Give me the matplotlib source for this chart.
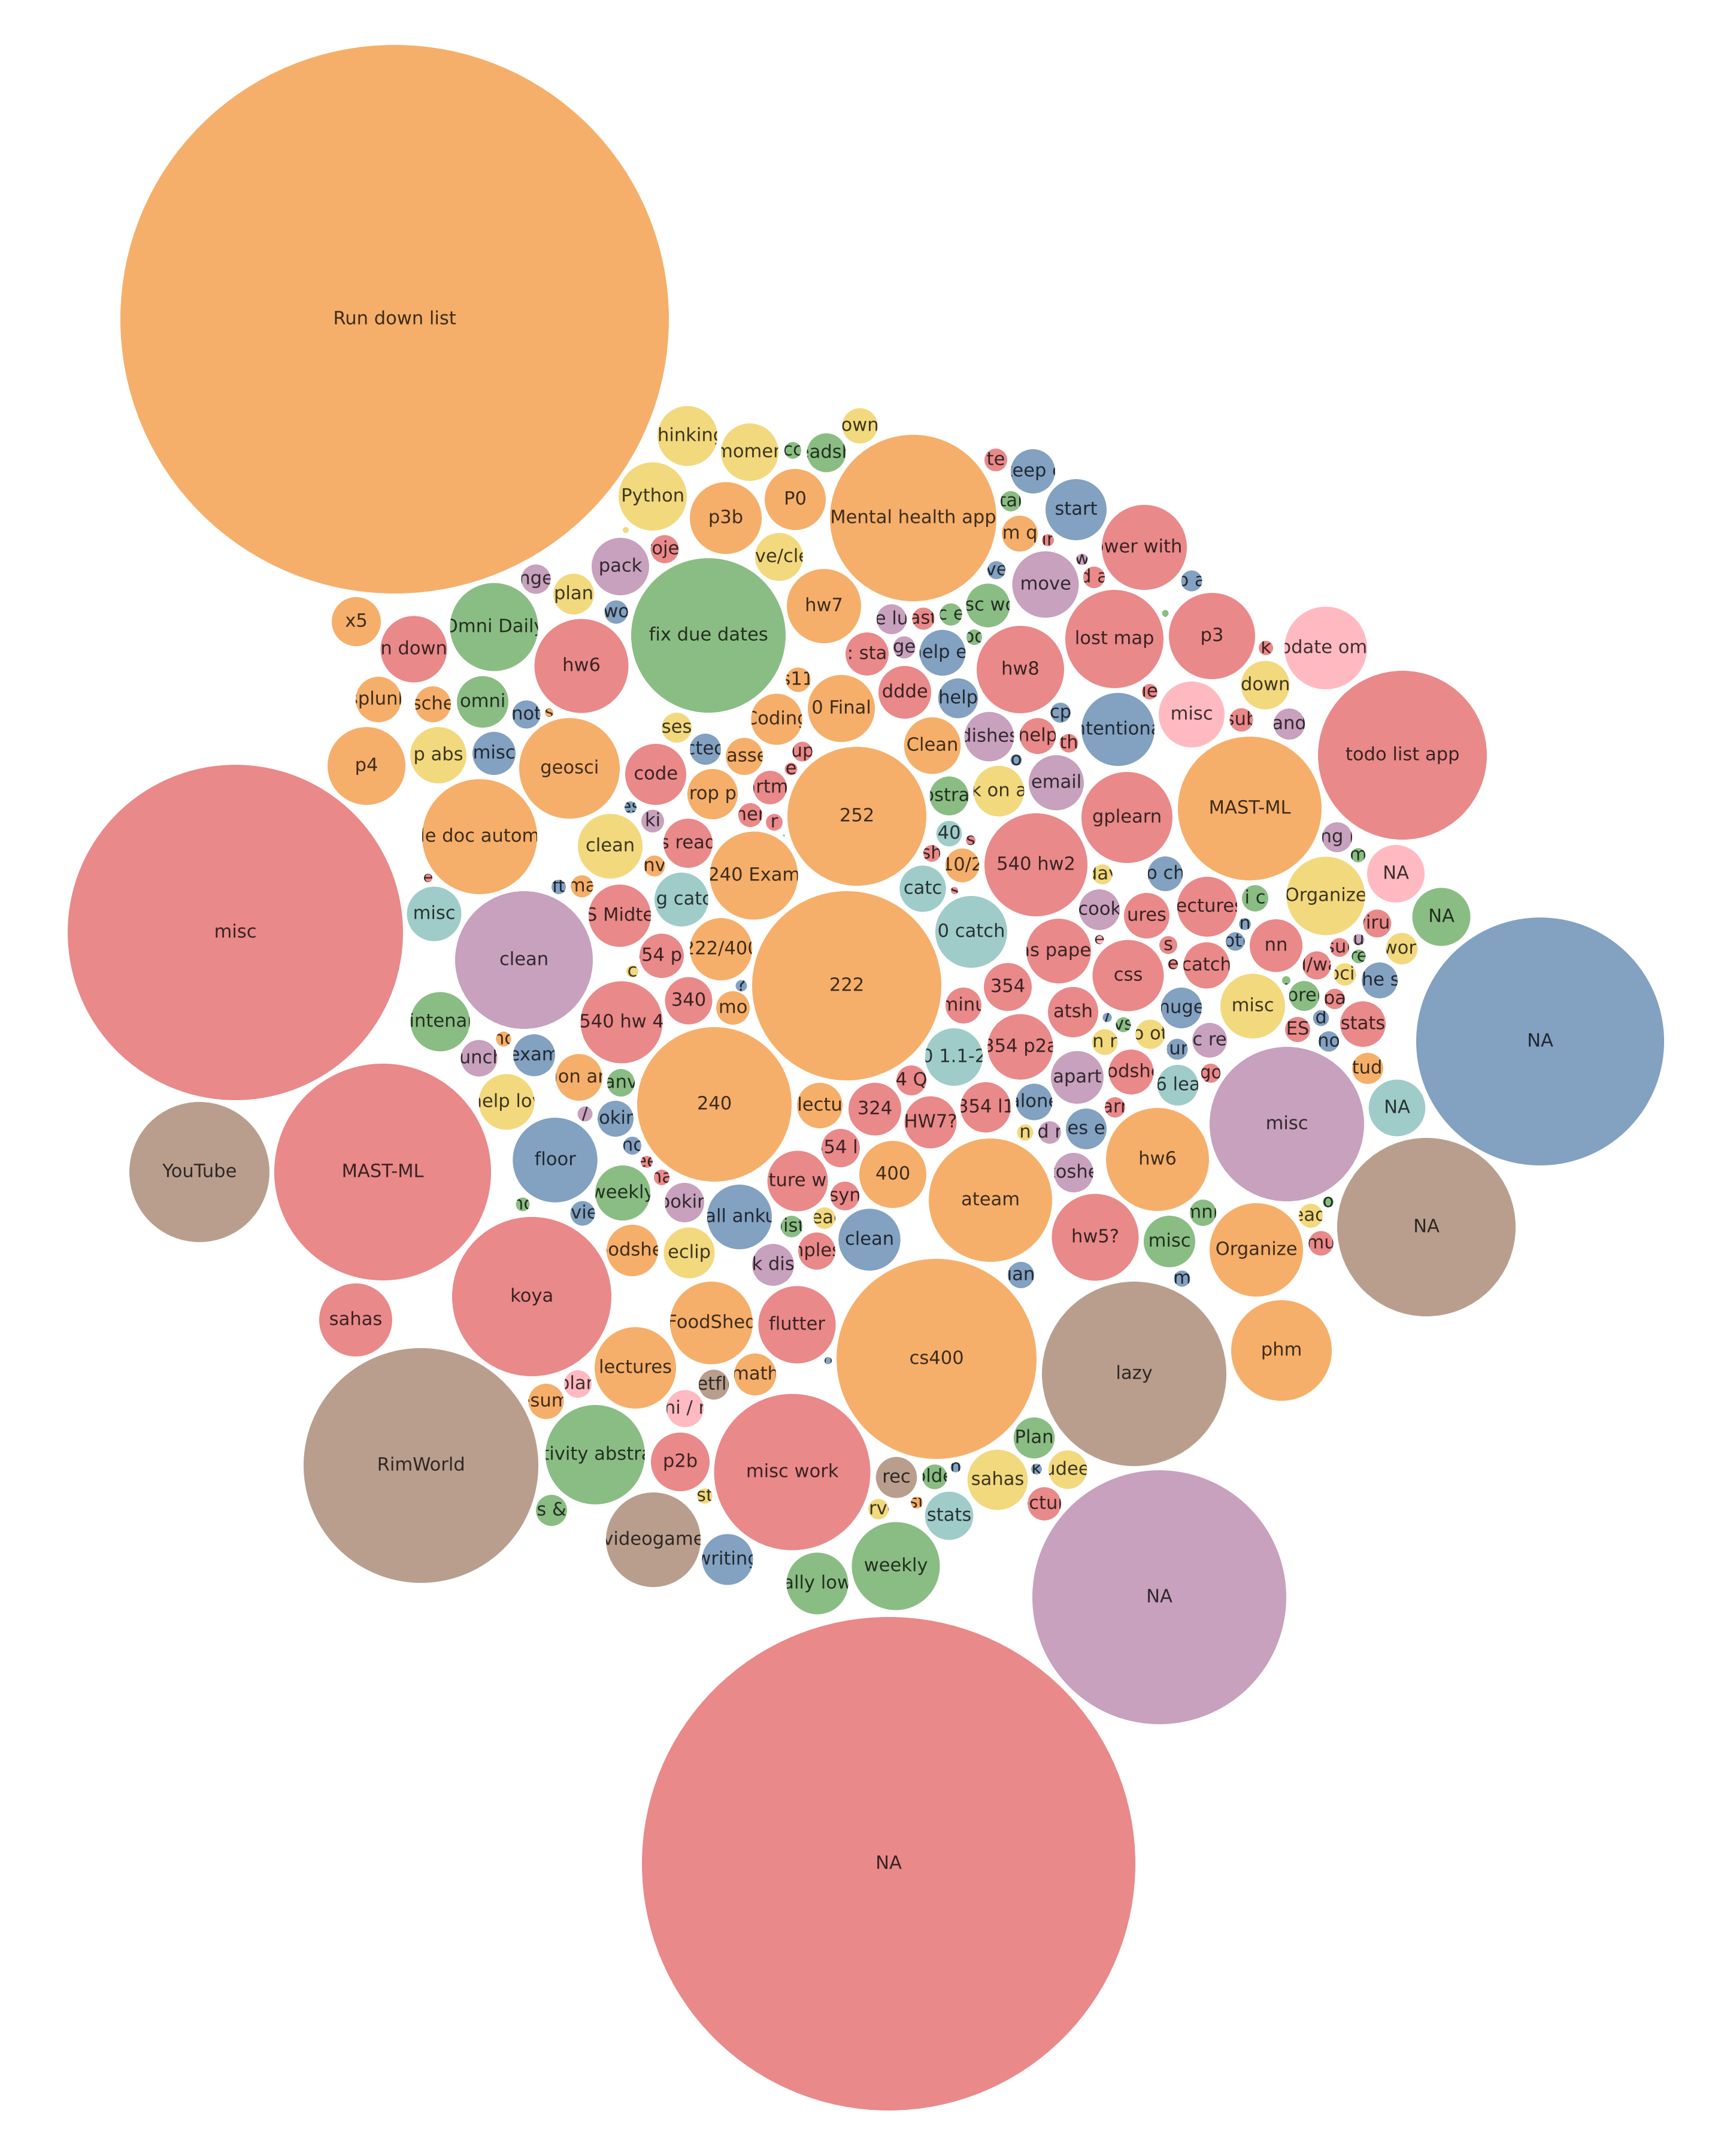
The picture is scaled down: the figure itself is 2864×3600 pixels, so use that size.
"""
Packed bubble chart of time spent per task, one colour per category.
Bubble centres and radii are in layout units (figure is 2864 x 3600 units).
"""

import matplotlib
matplotlib.use('Agg')
import matplotlib.pyplot as plt
import matplotlib.patheffects as pe
from matplotlib.patches import Circle

# ---- orange ----
orange_labels = ["Run down list", "222", "252", "240", "cs400", "Mental health app", "ateam",
                 "phm", "hw6", "Organize", "MAST-ML", "hw7", "P0", "p3b", "m q", "x5", "splunk",
                 "sche", "s", "p4", "geosci", "drop pa", "google doc automation", "nv",
                 "240 Exam", "ma", "222/400", "mo", "nc", "ion ar", "foodshed", "lectu", "400",
                 "cs112", "0 Final", "Coding", "Clean", "classes", "10/2", "study",
                 "lectures", "resume", "FoodShed", "math", "st"]
orange_x = [659, 1414, 1431, 1193, 1564, 1525, 1654, 2140, 1933, 2098, 2087, 1376, 1328, 1212,
            1703, 595, 632, 723, 917, 612, 951, 1190, 801, 1093, 1259, 972, 1204, 1224, 841,
            967, 1056, 1369, 1491, 1333, 1405, 1297, 1557, 1243, 1607, 2284, 1061, 912, 1188,
            1261, 1531]
orange_y = [533, 1646, 1363, 1844, 2269, 865, 2004, 2255, 1936, 2087, 1350, 1012, 834, 865,
            891, 1038, 1168, 1176, 1190, 1279, 1283, 1326, 1397, 1446, 1462, 1480, 1585, 1683,
            1735, 1799, 2088, 1846, 1961, 1135, 1183, 1201, 1245, 1263, 1445, 1784, 2284, 2340,
            2209, 2295, 2509]
orange_r = [458, 158, 116, 129, 167, 139, 103, 84, 86, 78, 120, 62, 51, 60, 30, 41, 38, 30, 7,
            65, 84, 42, 96, 17.5, 73.5, 18.5, 52, 28, 12.5, 39, 43, 38, 56, 20.5, 56, 42.7,
            47.3, 31, 28.3, 26, 68, 29.5, 69, 35, 9.8]

# ---- red ----
red_labels = ["misc", "NA", "MAST-ML", "koya", "sahas", "misc work", "todo list app", "p3",
              "power with cs", "lost map", "hw8", "te", "ir", "d a", "ast", "hw6", "n down",
              "project", "code", "s read", "e", "S Midte", "354 p1", "340", "540 hw 4",
              "ee", "na", "minu", "354", "atsh", "354 p2a", "foodshed", "4 Q", "324", "HW7?",
              "354 l1", "arr", "354 l1", "ture w", "syn", "hw5?", "nples", "mu", "stats",
              "ES", "go", "pa", "sub", "k", "ie", "ddde", ": sta", "help", "th", "gplearn",
              "up", "e", "apartment", "her", "r", "s", "sh", "s", "540 hw2", "ures",
              "as paper", "css", "lectures", "virus", "nn", "sur", "d/wa", "s", "e", "catch",
              "lecture", "flutter", "p2b"]
red_x = [393, 1484, 639, 888, 594, 1323, 2342, 2024, 1911, 1861, 1704, 1663, 1750, 1827, 1542,
         971, 691, 1110, 1095, 1149, 715, 1035, 1105, 1150, 1038, 1080, 1105, 1609, 1683, 1792,
         1704, 1889, 1522, 1461, 1554, 1646, 1862, 1404, 1332, 1411, 1829, 1364, 2206, 2276,
         2167, 2022, 2229, 2073, 2114, 1920, 1511, 1448, 1733, 1785, 1882, 1340, 1321, 1286,
         1253, 1293, 1621, 1556, 1594, 1730, 1915, 1768, 1884, 2016, 2300, 2131, 2237, 2199,
         1951, 1959, 2015, 1744, 1331, 1136]
red_y = [1557, 3112, 1957, 2165, 2204, 2458, 1261, 1062, 914, 1067, 1118, 768, 902, 964, 1033,
         1112, 1084, 917, 1293, 1408, 1466, 1529, 1596, 1671, 1707, 1940, 1966, 1679, 1648, 1690,
         1748, 1790, 1804, 1852, 1874, 1849, 1849, 1917, 1972, 1997, 2066, 2089, 2076, 1710,
         1719, 1792, 1668, 1202, 1082, 1155, 1156, 1092, 1229, 1241, 1365, 1255, 1284, 1315,
         1361, 1373, 1403, 1425, 1487, 1444, 1529, 1588, 1629, 1514, 1542, 1579, 1582, 1612,
         1578, 1610, 1612, 2511, 2212, 2441]
red_r = [280, 412, 181, 133, 61, 130.5, 141, 72, 71, 82, 73, 19, 10, 18, 18.5, 78.5, 55.5, 23.5,
         51, 41, 7, 52, 37, 39.5, 68.5, 10, 13, 30, 40, 42, 54.7, 37.5, 25, 44, 43.5, 42, 17, 32,
         50.5, 24, 72.5, 31, 20.5, 38, 21, 16, 17, 19.5, 12, 13, 44, 36, 30, 15.5, 76, 16.5,
         10.5, 28, 20, 14, 8, 14, 6, 86, 38, 54, 59.5, 50, 23.3, 44, 15.7, 23.5, 15, 8.5, 38.6,
         27.8, 64.6, 49]

# ---- blue ----
blue_labels = ["NA", "start", "keep d", "ve", "wo", "not", "misc", "cted", "es", "ft",
               "?", "exam", "looking", "floor", "nc", "review", "call ankur", "alone",
               "es e", "clean", "ian", "/", "m", "d", "ho", "huge", "curr", "o a",
               "intentional", "help", "help er", "cp", "o", "p ch", "oti", "h", "the si",
               "writing", "n", "n", "k"]
blue_x = [2572, 1797, 1725, 1664, 1029, 879, 825, 1178, 1053, 933, 1238, 892, 1028, 927, 1056,
          973, 1235, 1727, 1814, 1452, 1705, 1849, 1974, 2206, 2219, 1973, 1966, 1990, 1867,
          1600, 1574, 1771, 1697, 1946, 2063, 2079, 2304, 1215, 1383, 1596, 1731]
blue_y = [1739, 851, 787, 952, 1022, 1193, 1258, 1251, 1348, 1481, 1646, 1762, 1868, 1937, 1913,
          2026, 2032, 1840, 1885, 2070, 2129, 1699, 2135, 1700, 1739, 1683, 1752, 970, 1218,
          1166, 1090, 1190, 1269, 1459, 1572, 1543, 1637, 2604, 2272, 2450, 2453]
blue_r = [207, 51, 37, 15, 19.5, 23.5, 36, 26, 10, 12, 9.5, 35, 30, 70.7, 15, 20.5, 54, 30.5,
          34, 51.7, 22, 7.7, 13.5, 13.3, 17, 34, 17.5, 17.5, 61, 33.3, 38.3, 16.7, 9.5, 29, 15.5,
          10, 30, 42.5, 6, 8.5, 9]

# ---- teal ----
teal_labels = ["misc", "big catch", "40", "catc", "0 catch", "0 1.1-2", "6 lea", "NA",
               "stats", "."]
teal_x = [725, 1138, 1585, 1541, 1622, 1593, 1967, 2333, 1585, 1309]
teal_y = [1526, 1502, 1392, 1484, 1556, 1765, 1812, 1850, 2531, 1395]
teal_r = [45.5, 45, 21.3, 38.7, 60, 48, 34, 47.3, 40.3, 2]

# ---- green ----
green_labels = ["fix due dates", "Omni Daily", "omni", "cc", "spreadsheet", "tal", "misc work",
                "c e", "oo", "maintenance", "anv", "nc", "weekly", "list", "vs", "misc",
                "omni c", "o", "prel", "abstract", "i c", "m", "re", ".", "NA", ".",
                "activity abstract", "s &", "folder", "Plan", "weekly", "ally low"]
green_x = [1183, 825, 806, 1324, 1380, 1688, 1650, 1588, 1627, 735, 1037, 873, 1040, 1322, 1876,
           1953, 2009, 2218, 2178, 1585, 2096, 2268, 2269, 2148, 2407, 1946, 994, 921, 1561,
           1727, 1496, 1365]
green_y = [1061, 1047, 1172, 752, 756, 837, 1011, 1026, 1064, 1706, 1808, 2011, 1992, 2048, 1711,
           2073, 2025, 2007, 1663, 1329, 1500, 1428, 1597, 1637, 1531, 1024, 2429, 2522, 2466,
           2401, 2615, 2644]
green_r = [129, 73.5, 43, 14, 32.5, 17, 36.5, 18.5, 13, 49.5, 23, 11.5, 46, 18, 12.5, 43, 22, 9,
           25, 32.5, 22, 12, 11.5, 7, 48.5, 5.5, 83, 26, 20.7, 34.3, 73.5, 51.5]

# ---- yellow ----
yellow_labels = ["thinking", "momen", "Python", "own", "move/clean", ".", "plan", "p abs",
                 "ses", "clean", "c", "help loy", "eclip", "read", "k on a", "day", "n r",
                 "misc", "o ot", "Organize", "worl", "social", "down", "reads", "n", "sahas",
                 "sudeep", "survey", "st"]
yellow_x = [1148, 1252, 1090, 1436, 1301, 1045, 958, 732, 1130, 1019, 1056, 846, 1151, 1377,
            1668, 1841, 1845, 2092, 1921, 2214, 2341, 2246, 2113, 2189, 1712, 1666, 1783, 1467,
            1177]
yellow_y = [728, 755, 829, 711, 930, 885, 992, 1261, 1215, 1413, 1622, 1840, 2092, 2034, 1321,
            1460, 1740, 1680, 1727, 1496, 1584, 1627, 1144, 2030, 1891, 2471, 2454, 2520, 2498]
yellow_r = [50, 48, 57, 29.5, 40, 5, 34, 47, 25, 54, 10, 46.5, 42.5, 18, 42.3, 16.7, 21.5, 54,
            24.5, 65.5, 26.3, 18.5, 40.5, 20, 13.5, 50.3, 32.2, 17, 12.7]

# ---- purple ----
purple_labels = ["NA", "clean", "misc", "move", "w", "e lu", "pack", "nge", "ki", "/",
                 "lunch", "cooking", "apart", "d r", "toshe", "k dis", "c re", "ge", "dishes",
                 "email", "cook", "ng l", "and", "u"]
purple_x = [1936, 875, 2149, 1746, 1807, 1489, 1036, 895, 1090, 977, 800, 1143, 1799, 1753,
            1793, 1291, 2020, 1510, 1652, 1764, 1836, 2233, 2153, 2269]
purple_y = [2667, 1603, 1877, 976, 934, 1034, 946, 967, 1371, 1860, 1767, 2008, 1799, 1891,
            1958, 2112, 1737, 1081, 1230, 1307, 1519, 1398, 1209, 1569]
purple_r = [212, 115, 129, 55.5, 9.5, 25, 48, 24.5, 19, 12.5, 30.5, 33, 44, 18.8, 33, 35, 29,
            18.5, 41.3, 46, 34, 25, 26, 9.5]

# ---- pink ----
pink_labels = ["update omni", "misc", "NA", "e", "plan", "hi / r"]
pink_x = [2214, 1990, 2331, 1836, 965, 1144]
pink_y = [1082, 1193, 1459, 1569, 2311, 2352]
pink_r = [69, 55, 48, 7.5, 23, 31]

# ---- brown ----
brown_labels = ["YouTube", "RimWorld", "lazy", "NA", "videogame", "netflix", "rec"]
brown_x = [333, 703, 1894, 2382, 1091, 1192, 1497]
brown_y = [1957, 2447, 2294, 2049, 2571, 2312, 2467]
brown_r = [117, 196, 154, 149, 79, 25, 34.3]

groups = [
    ("#F28E2B", orange_labels, orange_x, orange_y, orange_r),
    ("#E15759", red_labels, red_x, red_y, red_r),
    ("#4E79A7", blue_labels, blue_x, blue_y, blue_r),
    ("#76B7B2", teal_labels, teal_x, teal_y, teal_r),
    ("#59A14F", green_labels, green_x, green_y, green_r),
    ("#EDC948", yellow_labels, yellow_x, yellow_y, yellow_r),
    ("#B07AA1", purple_labels, purple_x, purple_y, purple_r),
    ("#FF9DA7", pink_labels, pink_x, pink_y, pink_r),
    ("#9C755F", brown_labels, brown_x, brown_y, brown_r),
]

W, H = 2864, 3600
fig = plt.figure(figsize=(W / 200, H / 200), dpi=200)
ax = fig.add_axes([0, 0, 1, 1])
ax.set_xlim(0, W)
ax.set_ylim(H, 0)
ax.set_aspect('equal')
ax.axis('off')

for color, labels, xs, ys, rs in groups:
    for label, x, y, r in zip(labels, xs, ys, rs):
        circ = Circle((x, y), r, facecolor=color, edgecolor='none', alpha=0.7)
        ax.add_patch(circ)
        # ax.text defaults to clip_on=False; the path effect makes Agg draw the
        # glyphs as paths so the circular clip path is honoured
        txt = ax.text(x, y, label, ha='center', va='center', fontsize=11,
                      color='black', alpha=0.75, clip_on=True,
                      path_effects=[pe.Normal()])
        txt.set_clip_path(circ)

fig.savefig('out.png', dpi=200, facecolor='white')
